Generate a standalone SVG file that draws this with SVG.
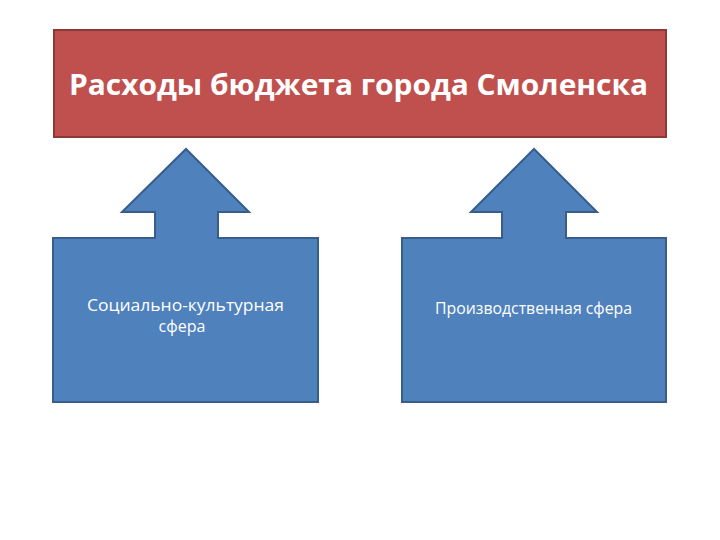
<svg xmlns="http://www.w3.org/2000/svg" width="720" height="540" viewBox="0 0 720 540">
<style>
.red{fill:#C0504D;stroke:#8C3836;stroke-width:2}
.blue{fill:#4F81BD;stroke:#385D8A;stroke-width:2;stroke-linejoin:miter}
.t{fill:#FFFFFF;font-family:"Open Sans","Liberation Sans",sans-serif}
</style>
<rect width="720" height="540" fill="#FFFFFF"/>
<g id="title">
<rect class="red" x="54" y="30" width="612" height="107"/>
<text class="t" x="69" y="95" font-size="28" font-weight="bold" textLength="579" lengthAdjust="spacingAndGlyphs">Расходы бюджета города Смоленска</text>
</g>
<g id="social">
<path class="blue" d="M53,238 H155 V212 H122 L186,149 L249,212 H218 V238 H318 V402 H53 Z"/>
<text class="t" x="87" y="311" font-size="16" textLength="197" lengthAdjust="spacingAndGlyphs">Социально-культурная</text>
<text class="t" x="182" y="332" font-size="16" text-anchor="middle">сфера</text>
</g>
<g id="production">
<path class="blue" d="M402,238 H502 V212 H471 L534,149 L597,212 H566 V238 H666 V402 H402 Z"/>
<text class="t" x="435" y="314" font-size="16" textLength="197" lengthAdjust="spacingAndGlyphs">Производственная сфера</text>
</g>
<g id="connectors"></g>
</svg>
